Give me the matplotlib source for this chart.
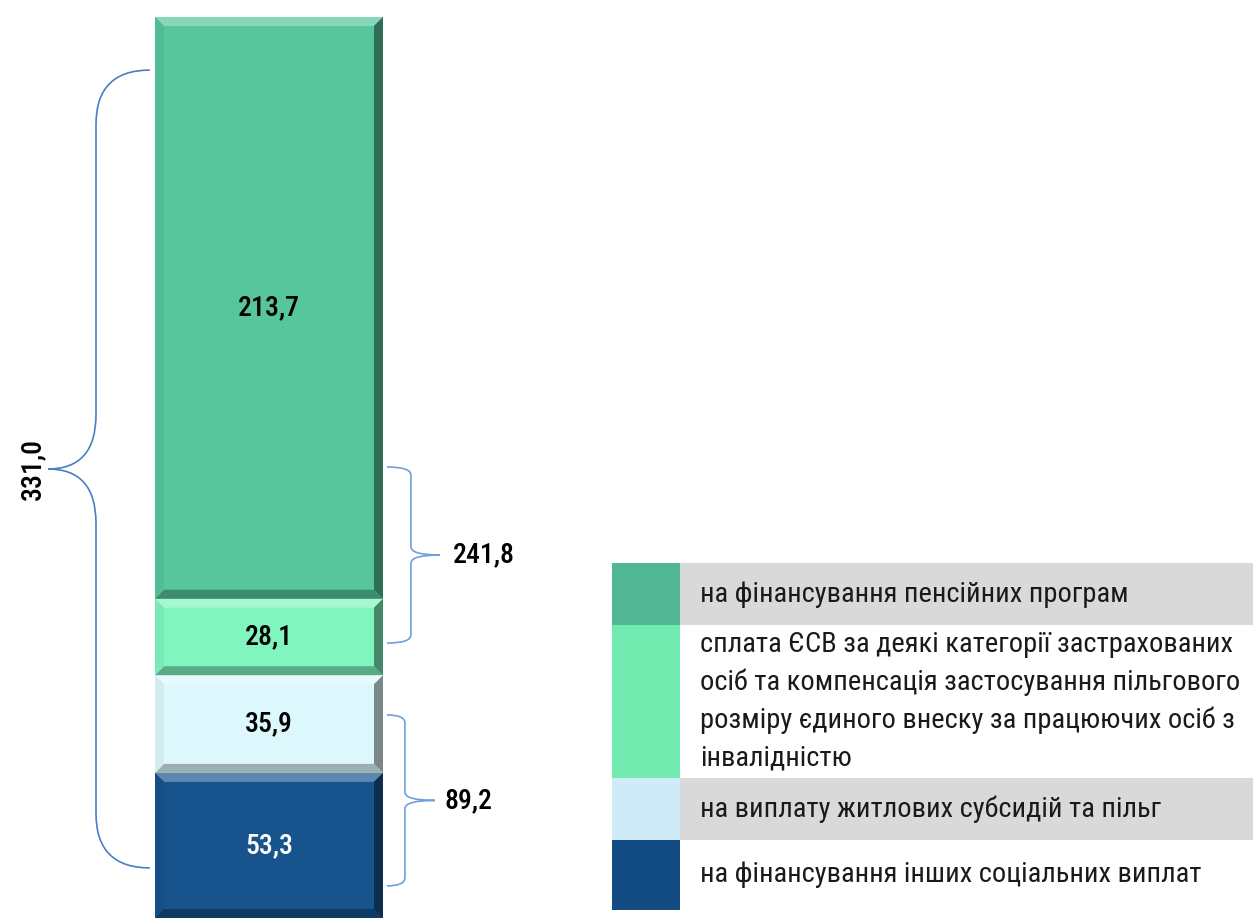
import matplotlib
matplotlib.use('Agg')
import matplotlib.pyplot as plt
from matplotlib import font_manager
from matplotlib.patches import Rectangle, Polygon, PathPatch
from matplotlib.path import Path
import numpy as np

# data
values = [53.3, 35.9, 28.1, 213.7]
value_labels = ['53,3', '35,9', '28,1', '213,7']
bar_colors = ['#17538C', '#DDF8FC', '#80F5BE', '#57C69C']
label_colors = ['white', 'black', 'black', 'black']
total_label = '331,0'
group_labels = ['241,8', '89,2']

legend_labels = ['на фінансування пенсійних програм',
                 'сплата ЄСВ за деякі категорії застрахованих\nосіб та компенсація застосування пільгового\nрозміру єдиного внеску за працюючих осіб з\nінвалідністю',
                 'на виплату житлових субсидій та пільг',
                 'на фінансування інших соціальних виплат']
legend_colors = ['#52B794', '#72EBB0', '#CFEBF8', '#134C82']

# narrow font with cyrillic
avail = {f.name for f in font_manager.fontManager.ttflist}
font = 'DejaVu Sans'
for cand in ['Roboto Condensed', 'Liberation Sans Narrow']:
    if cand in avail:
        font = cand
        break
plt.rcParams['font.family'] = [font, 'DejaVu Sans']

W, H = 1253, 918
fig = plt.figure(figsize=(W / 100, H / 100), dpi=100)
ax = fig.add_axes([0, 0, 1, 1])
ax.axis('off')

total = sum(values)
ymax = total * H / 901.0
ax.set_ylim(0, ymax)
ax.set_xlim(-269 / 285, (W - 269) / 285)

def mix(c, other, t):
    c = np.array(matplotlib.colors.to_rgb(c))
    o = np.array(matplotlib.colors.to_rgb(other))
    return tuple(c * (1 - t) + o * t)

bx = 9 / 285
by = 9 * ymax / H
bottom = 0
for v, c, lab, lc in zip(values, bar_colors, value_labels, label_colors):
    bar = ax.bar(0, v, bottom=bottom, width=0.8, color=c, zorder=2)[0]
    x0, y0 = bar.get_x(), bar.get_y()
    x1, y1 = x0 + bar.get_width(), y0 + bar.get_height()
    # bevel edges
    ax.add_patch(Polygon([(x0, y1), (x1, y1), (x1 - bx, y1 - by), (x0 + bx, y1 - by)],
                         color=mix(c, 'white', 0.3), lw=0, zorder=3))
    ax.add_patch(Polygon([(x0, y0), (x1, y0), (x1 - bx, y0 + by), (x0 + bx, y0 + by)],
                         color=mix(c, 'black', 0.3), lw=0, zorder=3))
    ax.add_patch(Polygon([(x0, y0), (x0, y1), (x0 + bx, y1 - by), (x0 + bx, y0 + by)],
                         color=mix(c, 'black', 0.05), lw=0, zorder=3))
    ax.add_patch(Polygon([(x1, y0), (x1, y1), (x1 - bx, y1 - by), (x1 - bx, y0 + by)],
                         color=mix(c, 'black', 0.45), lw=0, zorder=3))
    ax.text(0, y0 + v / 2, lab, ha='center', va='center', fontsize=20,
            fontweight='medium', color=lc, zorder=4)
    bottom += v


def brace(x_end, x_mid, x_tip, y_top, y_bot, r, color):
    y_tip = (y_top + y_bot) / 2
    verts = [(x_end, y_top), (x_mid, y_top), (x_mid, y_top - r),
             (x_mid, y_tip + r), (x_mid, y_tip), (x_tip, y_tip),
             (x_mid, y_tip), (x_mid, y_tip - r),
             (x_mid, y_bot + r), (x_mid, y_bot), (x_end, y_bot)]
    codes = [Path.MOVETO, Path.CURVE3, Path.CURVE3,
             Path.LINETO, Path.CURVE3, Path.CURVE3,
             Path.CURVE3, Path.CURVE3,
             Path.LINETO, Path.CURVE3, Path.CURVE3]
    ax.add_patch(PathPatch(Path(verts, codes), fill=False, ec=color, lw=1.2, zorder=5))

# total brace on the left
brace(-0.418, -0.607, -0.775, 311.5, 18.4, 20, '#4A7EC7')
ax.text(-0.83, 165, total_label, rotation=90, ha='center', va='center',
        fontsize=20, fontweight='medium')
# group braces on the right
brace(0.414, 0.498, 0.60, 165.7, 101.0, 3, '#6FA0DC')
ax.text(0.645, 133.4, group_labels[0], ha='left', va='center', fontsize=20, fontweight='medium')
brace(0.414, 0.477, 0.582, 74.6, 11.8, 3, '#6FA0DC')
ax.text(0.615, 43.2, group_labels[1], ha='left', va='center', fontsize=20, fontweight='medium')

# legend table
rows = [563, 625, 778, 840, 910]
for i, (lab, c) in enumerate(zip(legend_labels, legend_colors)):
    top, bot = rows[i], rows[i + 1]
    fig.patches.append(Rectangle((612 / W, 1 - bot / H), 68 / W, (bot - top) / H,
                                 transform=fig.transFigure, color=c, lw=0))
    if i % 2 == 0:
        fig.patches.append(Rectangle((680 / W, 1 - bot / H), (W - 680) / W, (bot - top) / H,
                                     transform=fig.transFigure, color='#D9D9D9', lw=0))
    fig.text(700 / W, 1 - (top + bot) / 2 / H, lab, ha='left', va='center',
             fontsize=20.5, linespacing=1.5, color='#1A1A1A')

fig.savefig('out.png', dpi=100)
